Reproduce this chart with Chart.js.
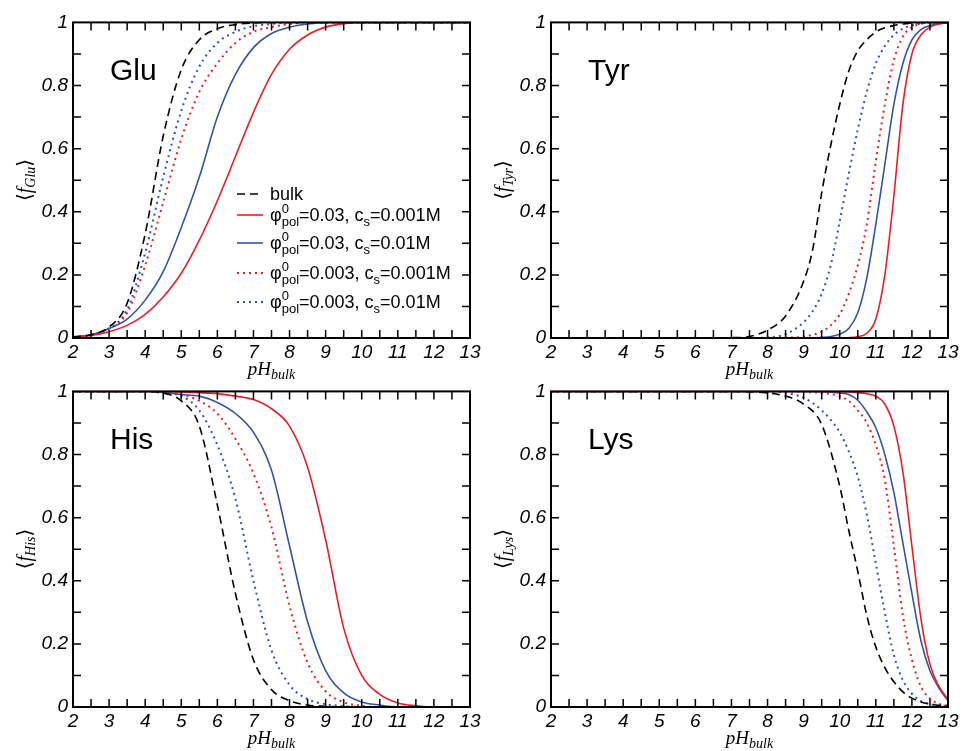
<!DOCTYPE html>
<html lang="en">
<head>
<meta charset="UTF-8">
<title>Ionization fraction vs bulk pH</title>
<script src="https://cdn.jsdelivr.net/npm/chart.js@4.4.1/dist/chart.umd.min.js"></script>
<style>
  body { margin: 0; background: #fff; width: 962px; height: 751px; position: relative; overflow: hidden; }
  .panel { position: absolute; width: 462px; height: 362px; }
  .ptitle { position: absolute; font: 30px "Liberation Sans", Arial, sans-serif; line-height: 30px; color: #000; }
  .xtitle { position: absolute; transform: translateX(-50%); font: italic 19px "Liberation Serif", "Times New Roman", serif; line-height: 19px; white-space: nowrap; }
  .xtitle .sb { font-size: 14px; position: relative; top: 4px; }
  .ytitle { position: absolute; transform: translate(-50%, -50%) rotate(-90deg); font: italic 20px "Liberation Serif", serif; white-space: nowrap; line-height: 20px; }
  .ytitle .br { font-family: "DejaVu Serif", "DejaVu Sans", serif; font-style: normal; font-size: 20px; }
  .ytitle .sb { font-size: 14px; position: relative; top: 4px; }
  .lg { position: absolute; left: 270px; font: 18px "Liberation Sans", Arial, sans-serif; line-height: 26px; white-space: nowrap; }
  .lg .up { display: inline-block; width: 0; position: relative; top: -8px; font-size: 13px; line-height: 0; }
  .lg .dn { position: relative; top: 5px; font-size: 13px; }
</style>
</head>
<body>
<div class="panel" id="p0"><canvas id="c0"></canvas></div>
<div class="panel" id="p1"><canvas id="c1"></canvas></div>
<div class="panel" id="p2"><canvas id="c2"></canvas></div>
<div class="panel" id="p3"><canvas id="c3"></canvas></div>

<svg style="position:absolute;left:237px;top:180px" width="30" height="130">
  <line x1="0" y1="14" x2="26" y2="14" stroke="#000" stroke-width="1.6" stroke-dasharray="8,5"/>
  <line x1="0" y1="35" x2="26" y2="35" stroke="rgb(237,28,36)" stroke-width="1.6"/>
  <line x1="0" y1="63" x2="26" y2="63" stroke="rgb(51,84,166)" stroke-width="1.6"/>
  <line x1="0" y1="93" x2="26" y2="93" stroke="rgb(237,28,36)" stroke-width="2" stroke-dasharray="2,4"/>
  <line x1="0" y1="122" x2="26" y2="122" stroke="rgb(51,84,166)" stroke-width="2" stroke-dasharray="2,4"/>
</svg>
<div class="lg" style="top:181px">bulk</div>
<div class="lg" style="top:202px">φ<span class="up">0</span><span class="dn">pol</span>=0.03, c<span class="dn">s</span>=0.001M</div>
<div class="lg" style="top:230px">φ<span class="up">0</span><span class="dn">pol</span>=0.03, c<span class="dn">s</span>=0.01M</div>
<div class="lg" style="top:260px">φ<span class="up">0</span><span class="dn">pol</span>=0.003, c<span class="dn">s</span>=0.001M</div>
<div class="lg" style="top:289px">φ<span class="up">0</span><span class="dn">pol</span>=0.003, c<span class="dn">s</span>=0.01M</div>

<script>
// pH grids
const PH_HALF = [2,2.5,3,3.5,4,4.5,5,5.5,6,6.5,7,7.5,8,8.5,9,9.5,10,10.5,11,11.5,12,12.5,13];
const PH_TYR = [2,3,4,5,6,7,7.5,8,8.5,9,9.25,9.5,9.75,10,10.25,10.5,10.75,11,11.25,11.5,11.75,12,12.25,12.5,13];
const PH_LYS = [2,4,6,7,7.5,8,8.5,9,9.5,10,10.25,10.5,10.75,11,11.25,11.5,11.75,12,12.25,12.5,12.75,13];

// tick labels
const X_TICKS = [2,3,4,5,6,7,8,9,10,11,12,13];
const Y_TICKS = [0,0.2,0.4,0.6,0.8,1];
const Y_TICK_LABELS = ['0','0.2','0.4','0.6','0.8','1'];

// series order: bulk, phi=0.03 cs=0.001, phi=0.03 cs=0.01, phi=0.003 cs=0.001, phi=0.003 cs=0.01
const SERIES = ['bulk','phi0.03_cs0.001M','phi0.03_cs0.01M','phi0.003_cs0.001M','phi0.003_cs0.01M'];

// Glu
const GLU_BULK      = [.003,.01,.035,.11,.33,.64,.85,.945,.98,.993,.998,1,1,1,1,1,1,1,1,1,1,1,1];
const GLU_P03_C001  = [.003,.008,.02,.04,.075,.13,.205,.31,.435,.575,.715,.835,.915,.96,.985,.996,1,1,1,1,1,1,1];
const GLU_P03_C01   = [.004,.01,.03,.06,.12,.21,.35,.51,.70,.835,.92,.965,.985,.995,1,1,1,1,1,1,1,1,1];
const GLU_P003_C001 = [.003,.01,.03,.08,.23,.43,.63,.78,.87,.935,.97,.985,.995,1,1,1,1,1,1,1,1,1,1];
const GLU_P003_C01  = [.003,.01,.03,.09,.27,.51,.72,.86,.935,.97,.988,.995,1,1,1,1,1,1,1,1,1,1,1];

// Tyr
const TYR_BULK      = [0,0,0,0,0,.001,.005,.025,.07,.18,.28,.46,.61,.74,.845,.91,.945,.97,.983,.99,.995,.998,1,1,1];
const TYR_P03_C001  = [0,0,0,0,0,0,0,0,0,0,0,0,0,0,.001,.004,.015,.06,.20,.45,.74,.90,.96,.985,1];
const TYR_P03_C01   = [0,0,0,0,0,0,0,0,0,0,0,.002,.005,.012,.03,.08,.19,.36,.55,.74,.87,.945,.977,.99,1];
const TYR_P003_C001 = [0,0,0,0,0,0,0,0,.001,.004,.01,.02,.04,.075,.14,.23,.36,.56,.74,.88,.955,.985,.995,1,1];
const TYR_P003_C01  = [0,0,0,0,0,0,0,.002,.012,.05,.085,.14,.23,.37,.52,.66,.78,.87,.925,.96,.98,.99,.996,1,1];

// His
const HIS_BULK      = [1,1,1,1,1,.995,.97,.89,.64,.36,.15,.055,.02,.006,.002,0,0,0,0,0,0,0,0];
const HIS_P03_C001  = [1,1,1,1,1,1,.998,.996,.993,.985,.974,.945,.89,.76,.53,.25,.10,.04,.013,.004,0,0,0];
const HIS_P03_C01   = [1,1,1,1,1,.997,.99,.985,.965,.93,.87,.75,.51,.27,.115,.045,.016,.006,0,0,0,0,0];
const HIS_P003_C001 = [1,1,1,1,1,.998,.99,.97,.93,.85,.74,.57,.32,.14,.05,.015,.004,0,0,0,0,0,0];
const HIS_P003_C01  = [1,1,1,1,1,.995,.985,.94,.83,.66,.40,.18,.07,.025,.009,.003,0,0,0,0,0,0,0];

// Lys
const LYS_BULK      = [1,1,1,1,.999,.995,.985,.96,.895,.70,.56,.43,.29,.19,.125,.08,.048,.028,.016,.009,.005,.003];
const LYS_P03_C001  = [1,1,1,1,1,1,1,1,1,.999,.998,.996,.993,.985,.96,.89,.745,.51,.28,.135,.065,.025];
const LYS_P03_C01   = [1,1,1,1,1,1,1,1,.999,.995,.99,.972,.935,.885,.80,.68,.52,.36,.21,.115,.06,.02];
const LYS_P003_C001 = [1,1,1,1,1,1,1,.998,.995,.985,.97,.94,.90,.83,.72,.51,.29,.15,.065,.027,.01,.004];
const LYS_P003_C01  = [1,1,1,1,1,1,.995,.98,.94,.87,.81,.73,.61,.455,.30,.165,.085,.042,.019,.009,.005,.003];

const RED = 'rgb(237,28,36)', BLUE = 'rgb(51,84,166)';
const STYLES = [
  {color:'#000', dash:[8,5], width:1.6},
  {color:RED,  dash:[],    width:1.6},
  {color:BLUE, dash:[],    width:1.6},
  {color:RED,  dash:[2,4], width:2},
  {color:BLUE, dash:[2,4], width:2}
];

// plot area boxes (left, top) ; each area is 397 x 317
const PANELS = [
  {name:'Glu', left:73,  top:21,  ph:PH_HALF, rows:[GLU_BULK,GLU_P03_C001,GLU_P03_C01,GLU_P003_C001,GLU_P003_C01]},
  {name:'Tyr', left:551, top:21,  ph:PH_TYR,  rows:[TYR_BULK,TYR_P03_C001,TYR_P03_C01,TYR_P003_C001,TYR_P003_C01]},
  {name:'His', left:73,  top:390, ph:PH_HALF, rows:[HIS_BULK,HIS_P03_C001,HIS_P03_C01,HIS_P003_C001,HIS_P003_C01]},
  {name:'Lys', left:551, top:390, ph:PH_LYS,  rows:[LYS_BULK,LYS_P03_C001,LYS_P03_C01,LYS_P003_C001,LYS_P003_C01]}
];
const Y_AXIS_W = 45, PAD_TOP = 15, PLOT_W = 397, PLOT_H = 317;

// inward ticks on all four sides + frame
const frameTicks = {
  id: 'frameTicks',
  afterDatasetsDraw(chart) {
    const {ctx, chartArea: a, scales: {x, y}} = chart;
    ctx.save();
    ctx.strokeStyle = '#000';
    ctx.lineWidth = 1.5;
    ctx.beginPath();
    for (let v = 2.5; v < 13; v += 0.5) {
      const px = x.getPixelForValue(v);
      ctx.moveTo(px, a.bottom); ctx.lineTo(px, a.bottom - 8);
      ctx.moveTo(px, a.top); ctx.lineTo(px, a.top + 8);
    }
    for (let i = 1; i < 10; i++) {
      const py = y.getPixelForValue(i / 10);
      ctx.moveTo(a.left, py); ctx.lineTo(a.left + 8, py);
      ctx.moveTo(a.right, py); ctx.lineTo(a.right - 8, py);
    }
    ctx.stroke();
    ctx.lineWidth = 2;
    ctx.strokeRect(a.left, a.top, a.right - a.left, a.bottom - a.top);
    ctx.restore();
  }
};

const tickFont = {family:'Liberation Sans', size:19, style:'italic'};

PANELS.forEach((p, k) => {
  const box = document.getElementById('p' + k);
  box.style.left = (p.left - Y_AXIS_W) + 'px';
  box.style.top = (p.top - PAD_TOP) + 'px';

  new Chart(document.getElementById('c' + k), {
    type: 'line',
    data: {
      datasets: p.rows.map((vals, i) => ({
        label: SERIES[i],
        data: p.ph.map((ph, j) => ({x: ph, y: vals[j]})),
        borderColor: STYLES[i].color,
        borderDash: STYLES[i].dash,
        borderWidth: STYLES[i].width,
        pointRadius: 0,
        fill: false,
        cubicInterpolationMode: 'monotone'
      }))
    },
    options: {
      responsive: true,
      maintainAspectRatio: false,
      animation: false,
      layout: {padding: {top: PAD_TOP, right: 20, left: 0, bottom: 0}},
      plugins: {legend: {display: false}, tooltip: {enabled: false}},
      scales: {
        x: {
          type: 'linear', min: 2, max: 13,
          grid: {display: false, drawTicks: false}, border: {display: false},
          afterBuildTicks: s => { s.ticks = X_TICKS.map(v => ({value: v})); },
          afterFit: s => { s.height = 30; },
          ticks: {font: tickFont, color: '#000', padding: 3, maxRotation: 0, autoSkip: false}
        },
        y: {
          min: 0, max: 1,
          grid: {display: false, drawTicks: false}, border: {display: false},
          afterBuildTicks: s => { s.ticks = Y_TICKS.map(v => ({value: v})); },
          afterFit: s => { s.width = Y_AXIS_W; },
          ticks: {font: tickFont, color: '#000', padding: 5, callback: (v, i) => Y_TICK_LABELS[i]}
        }
      }
    },
    plugins: [frameTicks]
  });

  // panel label
  const t = document.createElement('div');
  t.className = 'ptitle';
  t.textContent = p.name;
  t.style.left = (p.left + 37) + 'px';
  t.style.top = (p.top + 59 - 25.4) + 'px';
  document.body.appendChild(t);

  // x title
  const xt = document.createElement('div');
  xt.className = 'xtitle';
  xt.innerHTML = 'pH<span class="sb">bulk</span>';
  xt.style.left = (p.left + PLOT_W / 2) + 'px';
  xt.style.top = (p.top + PLOT_H + 37 - 16) + 'px';
  document.body.appendChild(xt);

  // y title
  const yt = document.createElement('div');
  yt.className = 'ytitle';
  yt.innerHTML = '<span class="br">⟨</span>f<span class="sb">' + p.name + '</span><span class="br">⟩</span>';
  yt.style.left = (p.left - 48) + 'px';
  yt.style.top = (p.top + PLOT_H / 2) + 'px';
  document.body.appendChild(yt);
});
</script>
</body>
</html>
